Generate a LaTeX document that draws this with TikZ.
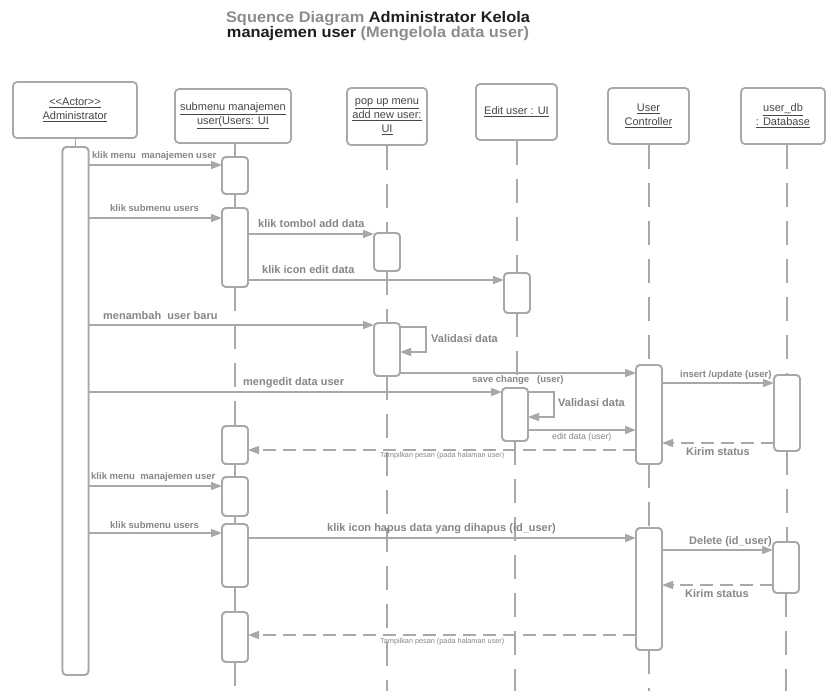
\documentclass[tikz,border=0pt]{standalone}
\usepackage{fontspec}
\setmainfont{Liberation Sans}
\newfontfamily\ttlfont[FakeStretch=1.07]{Liberation Sans}
\usetikzlibrary{arrows.meta}

\definecolor{ln}{HTML}{A8A8A8}
\definecolor{lbl}{HTML}{878787}
\definecolor{hdr}{HTML}{474747}
\definecolor{ttlgray}{HTML}{8C8C8C}
\definecolor{ttlblack}{HTML}{1E1E1E}

\begin{document}
\begin{tikzpicture}[x=1pt,y=-1pt,
  head/.style={draw=ln, line width=1.8pt, rounded corners=4pt, fill=white,
    inner sep=0pt, text=hdr, align=center,
    font=\fontsize{11}{14}\selectfont},
  act/.style={draw=ln, line width=1.8pt, rounded corners=4pt, fill=white,
    minimum width=26pt, inner sep=0pt, outer sep=0pt, anchor=north},
  life/.style={draw=ln, line width=1.5pt, dash pattern=on 24pt off 14pt},
  lifesolid/.style={draw=ln, line width=1.5pt},
  msg/.style={draw=ln, line width=1.5pt, -{Triangle[length=11pt,width=8pt]}},
  ret/.style={msg, dash pattern=on 13pt off 7pt},
  lab/.style={text=lbl, inner sep=0pt, anchor=base west,
    font=\bfseries\fontsize{11}{13}\selectfont},
  labsmall/.style={lab, font=\bfseries\fontsize{9.5}{11}\selectfont},
  labthin/.style={lab, font=\fontsize{8.8}{10}\selectfont},
  labtiny/.style={lab, font=\fontsize{7.3}{9}\selectfont},
  ttl/.style={inner sep=0pt, anchor=north, align=center,
    font=\ttlfont\bfseries\fontsize{15.3}{15}\selectfont}
]
\useasboundingbox (0,0) rectangle (827,691);
\fill[white] (0,0) rectangle (827,691);

% ---------- title ----------
\node[ttl] (title) at (378,11.3)
  {\textcolor{ttlgray}{Squence Diagram} \textcolor{ttlblack}{Administrator Kelola}\\
   \textcolor{ttlblack}{manajemen user} \textcolor{ttlgray}{(Mengelola data user)}};

% ---------- participants ----------
\node[head, minimum width=124pt, minimum height=56pt] (had) at (75,110)
  {\underline{<{}<Actor>{}>}\\\underline{Administrator}};
\node[head, minimum width=116pt, minimum height=54pt] (hsb) at (233,116)
  {\underline{submenu manajemen}\\\underline{user(Users: UI}};
\node[head, minimum width=80pt, minimum height=57pt] (hpp) at (387,116.5)
  {\underline{pop up menu}\\\underline{add new user:}\\\underline{UI}};
\node[head, minimum width=81pt, minimum height=56pt] (hed) at (516.5,112)
  {\underline{Edit user : UI}};
\node[head, minimum width=81pt, minimum height=56pt] (hct) at (648.5,116)
  {\underline{User}\\\underline{Controller}};
\node[head, minimum width=84pt, minimum height=56pt] (hdb) at (783,116)
  {\underline{user\_db}\\\underline{: Database}};

% ---------- activation bars ----------
\node[act, minimum height=528pt] (ad)  at (75.5,147) {};

\node[act, minimum height=37pt] (sb1) at (235,157) {};
\node[act, minimum height=79pt] (sb2) at (235,208) {};
\node[act, minimum height=38pt] (sb3) at (235,426) {};
\node[act, minimum height=39pt] (sb4) at (235,477) {};
\node[act, minimum height=63pt] (sb5) at (235,524) {};
\node[act, minimum height=50pt] (sb6) at (235,612) {};

\node[act, minimum height=38pt] (pp1) at (387,233) {};
\node[act, minimum height=53pt] (pp2) at (387,323) {};

\node[act, minimum height=40pt] (ed1) at (517,273) {};
\node[act, minimum height=53pt] (ed2) at (515,388) {};

\node[act, minimum height=99pt]  (ct1) at (649,365) {};
\node[act, minimum height=122pt] (ct2) at (649,528) {};

\node[act, minimum height=76pt] (db1) at (787,375) {};
\node[act, minimum height=51pt] (db2) at (786,542) {};

\coordinate (bot) at (0,691);

% ---------- lifelines ----------
\draw[lifesolid] (ad.north |- had.south) -- (ad.north);

\draw[life] (sb1.north |- hsb.south) -- (sb1.north);
\draw[life] (sb1.south) -- (sb2.north);
\draw[life] (sb2.south) -- (sb3.north);
\draw[life] (sb3.south) -- (sb4.north);
\draw[life] (sb4.south) -- (sb5.north);
\draw[life] (sb5.south) -- (sb6.north);
\draw[life] (sb6.south) -- (sb6.south |- bot);

\draw[life] (pp1.north |- hpp.south) -- (pp1.north);
\draw[life] (pp1.south) -- (pp2.north);
\draw[life] (pp2.south) -- (pp2.south |- bot);

\draw[life] (ed1.north |- hed.south) -- (ed1.north);
\draw[life] (ed1.south) -- (ed1.south |- ed2.north);
\draw[life] (ed2.south) -- (ed2.south |- bot);

\draw[life] (ct1.north |- hct.south) -- (ct1.north);
\draw[life] (ct1.south) -- (ct2.north);
\draw[life] (ct2.south) -- (ct2.south |- bot);

\draw[life] (db1.north |- hdb.south) -- (db1.north);
\draw[life] (db1.south) -- (db1.south |- db2.north);
\draw[life] (db2.south) -- (db2.south |- bot);

% redraw bars above the lifelines
\foreach \b in {ad,sb1,sb2,sb3,sb4,sb5,sb6,pp1,pp2,ed1,ed2,ct1,ct2,db1,db2}
  \draw[ln, line width=1.8pt, fill=white, rounded corners=4pt]
    (\b.north west) rectangle (\b.south east);

% ---------- message levels ----------
\coordinate (y1) at (0,165);
\coordinate (y2) at (0,218);
\coordinate (y3) at (0,234);
\coordinate (y4) at (0,280);
\coordinate (y5) at (0,325);
\coordinate (s1a) at (0,327);
\coordinate (s1b) at (0,352);
\coordinate (y6) at (0,373);
\coordinate (y7) at (0,392);
\coordinate (s2a) at (0,392);
\coordinate (s2b) at (0,417);
\coordinate (y8) at (0,430);
\coordinate (y9) at (0,383);
\coordinate (y10) at (0,443);
\coordinate (y11) at (0,450);
\coordinate (y12) at (0,486);
\coordinate (y13) at (0,533);
\coordinate (y14) at (0,538);
\coordinate (y15) at (0,550);
\coordinate (y16) at (0,585);
\coordinate (y17) at (0,635);

% ---------- messages ----------
\draw[msg] (ad.east |- y1) -- (sb1.west |- y1);
\draw[msg] (ad.east |- y2) -- (sb2.west |- y2);
\draw[msg] (sb2.east |- y3) -- (pp1.west |- y3);
\draw[msg] (sb2.east |- y4) -- (ed1.west |- y4);
\draw[msg] (ad.east |- y5) -- (pp2.west |- y5);
\draw[msg] (pp2.east |- s1a) -- ++(26,0) |- (pp2.east |- s1b);
\draw[msg] (pp2.east |- y6) -- (ct1.west |- y6);
\draw[msg] (ad.east |- y7) -- (ed2.west |- y7);
\draw[msg] (ed2.east |- s2a) -- ++(26,0) |- (ed2.east |- s2b);
\draw[msg] (ed2.east |- y8) -- (ct1.west |- y8);
\draw[msg] (ct1.east |- y9) -- (db1.west |- y9);
\draw[ret] (db1.west |- y10) -- (ct1.east |- y10);
\draw[ret] (ct1.west |- y11) -- (sb3.east |- y11);
\draw[msg] (ad.east |- y12) -- (sb4.west |- y12);
\draw[msg] (ad.east |- y13) -- (sb5.west |- y13);
\draw[msg] (sb5.east |- y14) -- (ct2.west |- y14);
\draw[msg] (ct2.east |- y15) -- (db2.west |- y15);
\draw[ret] (db2.west |- y16) -- (ct2.east |- y16);
\draw[ret] (ct2.west |- y17) -- (sb6.east |- y17);

% ---------- labels ----------
\node[labsmall] (l1)  at (92,158)  {klik menu\ \ manajemen user};
\node[labsmall] (l2)  at (110,211) {klik submenu users};
\node[lab]      (l3)  at (258,227) {klik tombol add data};
\node[lab]      (l4)  at (262,273) {klik icon edit data};
\node[lab]      (l5)  at (103,319) {menambah\ \ user baru};
\node[lab]      (l6)  at (431,342) {Validasi data};
\node[labsmall] (l7)  at (472,382) {save change\ \ \ (user)};
\node[lab]      (l8)  at (243,385) {mengedit data user};
\node[lab]      (l9)  at (558,406.5) {Validasi data};
\node[labthin]  (l10) at (552,439) {edit data (user)};
\node[labsmall] (l11) at (680,377) {insert /update (user)};
\node[lab]      (l12) at (686,455) {Kirim status};
\node[labtiny]  (l13) at (380,457) {Tampilkan pesan (pada halaman user)};
\node[labsmall] (l14) at (91,479)  {klik menu\ \ manajemen user};
\node[labsmall] (l15) at (110,528) {klik submenu users};
\node[lab]      (l16) at (327,531) {klik icon hapus data yang dihapus (id\_user)};
\node[lab]      (l17) at (689,544) {Delete (id\_user)};
\node[lab]      (l18) at (685,597) {Kirim status};
\node[labtiny]  (l19) at (380,643) {Tampilkan pesan (pada halaman user)};
\end{tikzpicture}
\end{document}
